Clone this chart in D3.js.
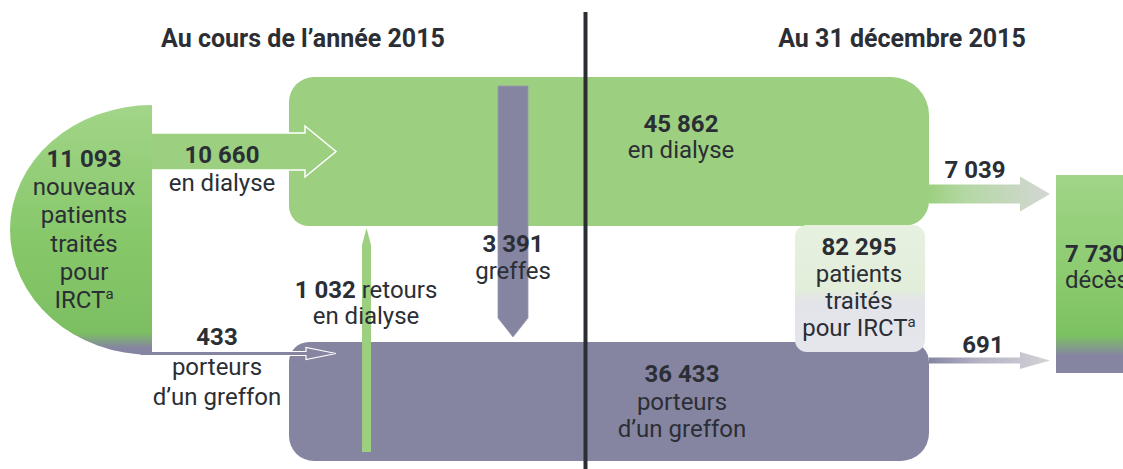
<!DOCTYPE html>
<html>
<head>
<meta charset="utf-8">
<script src="https://cdn.jsdelivr.net/npm/d3@7"></script>
<style>
	html, body { margin: 0; padding: 0; background: white; }
	svg { display: block; font-family: Roboto, "Open Sans", sans-serif; }
	text { fill: #2b2e35; }
</style>
</head>
<body>
<div id="chart"></div>
<script>
	// data
	var titles = ["Au cours de l’année 2015", "Au 31 décembre 2015"];
	var incidentCategories = ["en dialyse", "porteurs", "d’un greffon"];
	var incidentValues = [10660, 433];          // new patients : dialysis, graft
	var transferValues = [1032, 3391];          // back to dialysis, transplants
	var prevalentValues = [45862, 36433];       // on 31/12 : dialysis, graft
	var deathValues = [7039, 691];              // deaths from dialysis, graft

	var width = 1123, height = 469;
	var green = "#9cd080", purple = "#8685a1", ink = "#2b2e35";

	var fr = d3.formatLocale({decimal: ",", thousands: "\u00a0", grouping: [3], currency: ["", " €"]});
	var fmt = fr.format(",d");

	var svg = d3.select("#chart").append("svg")
		.attr("width", width)
		.attr("height", height);
	var defs = svg.append("defs");

	// share of graft in a total -> where the green turns purple
	function share(values) { return values[1] / d3.sum(values); }

	function vGrad(id, stops) {
		var g = defs.append("linearGradient").attr("id", id)
			.attr("x1", 0).attr("y1", 0).attr("x2", 0).attr("y2", 1);
		stops.forEach(function(s) { g.append("stop").attr("offset", s[0]).attr("stop-color", s[1]); });
	}
	function hGrad(id, stops) {
		var g = defs.append("linearGradient").attr("id", id)
			.attr("x1", 0).attr("y1", 0).attr("x2", 1).attr("y2", 0);
		stops.forEach(function(s) { g.append("stop").attr("offset", s[0]).attr("stop-color", s[1]); });
	}

	var pIn = share(incidentValues), pDeath = share(deathValues), pPrev = share(prevalentValues);
	vGrad("gIn", [[0, "#a2d588"], [0.55, "#86c769"], [1 - pIn - 0.05, "#7cbf62"], [1 - pIn + 0.01, purple], [1, purple]]);
	vGrad("gDeath", [[0, "#a0d587"], [0.5, "#8ccb70"], [1 - pDeath - 0.1, "#7cc161"], [1 - pDeath, purple], [1, purple]]);
	vGrad("gBox", [[0, "#e7f1e0"], [1 - pPrev - 0.05, "#e2edda"], [1 - pPrev + 0.05, "#e3e3ea"], [1, "#e5e5ec"]]);
	hGrad("gA1", [[0, green], [0.3, "#b4d8a4"], [1, "#d4d7d4"]]);
	hGrad("gA2", [[0, purple], [0.4, "#b4b3c6"], [1, "#d2d2d6"]]);

	function roundRect(x, y, w, h, r) {
		var p = d3.path();
		p.moveTo(x + r[0], y);
		p.lineTo(x + w - r[1], y);
		p.arcTo(x + w, y, x + w, y + r[1], r[1]);
		p.lineTo(x + w, y + h - r[2]);
		p.arcTo(x + w, y + h, x + w - r[2], y + h, r[2]);
		p.lineTo(x + r[3], y + h);
		p.arcTo(x, y + h, x, y + h - r[3], r[3]);
		p.lineTo(x, y + r[0]);
		p.arcTo(x, y, x + r[0], y, r[0]);
		p.closePath();
		return p.toString();
	}

	// horizontal arrow: shaft x0..xh, head to tip xt
	function hArrow(x0, xh, xt, cy, sw, hw) {
		var p = d3.path();
		p.moveTo(x0, cy - sw);
		p.lineTo(xh, cy - sw);
		p.lineTo(xh, cy - hw);
		p.lineTo(xt, cy);
		p.lineTo(xh, cy + hw);
		p.lineTo(xh, cy + sw);
		p.lineTo(x0, cy + sw);
		p.closePath();
		return p.toString();
	}

	// vertical arrow: shaft y0..yh, head to tip yt (up or down)
	function vArrow(cx, y0, yh, yt, sw, hw) {
		var p = d3.path();
		p.moveTo(cx - sw, y0);
		p.lineTo(cx - sw, yh);
		p.lineTo(cx - hw, yh);
		p.lineTo(cx, yt);
		p.lineTo(cx + hw, yh);
		p.lineTo(cx + sw, yh);
		p.lineTo(cx + sw, y0);
		p.closePath();
		return p.toString();
	}

	function label(x, y, lines, anchor, step) {
		var t = svg.append("text")
			.attr("x", x).attr("y", y)
			.attr("text-anchor", anchor || "middle")
			.style("font-size", "24px");
		lines.forEach(function(l, i) {
			var line = t.append("tspan").attr("x", x).attr("dy", i ? (step || 27) : 0);
			l.forEach(function(part) {
				var s = line.append("tspan").text(part[0]);
				if (part[1] === "b") s.style("font-weight", 700);
				if (part[1] === "sup") s.style("font-size", "15px").attr("dy", -9);
			});
		});
		return t;
	}

	// big boxes
	svg.append("path").attr("d", roundRect(289, 77, 640, 149, [25, 38, 25, 20])).attr("fill", green);
	svg.append("path").attr("d", roundRect(289, 342, 640, 119, [20, 20, 28, 25])).attr("fill", purple);

	// incident flows
	svg.append("path").attr("d", hArrow(140, 305, 336, 151.5, 18.5, 25.5))
		.attr("fill", green).attr("stroke", "white").attr("stroke-width", 1.5);
	svg.append("path").attr("d", hArrow(140, 306, 336, 353.5, 2, 6))
		.attr("fill", purple).attr("stroke", "white").attr("stroke-width", 1.2);

	// half disc of new patients
	svg.append("path")
		.attr("d", "M152,105 A142,125 0 0 0 152,355 Z")
		.attr("fill", "url(#gIn)");

	// transfers
	svg.append("path").attr("d", vArrow(366.5, 452, 245, 228, 4.5, 4.5)).attr("fill", green);
	svg.append("path").attr("d", vArrow(513, 86, 318, 337, 15, 15)).attr("fill", purple)
		.attr("stroke", "#9897b0").attr("stroke-width", 0.8);

	// total box
	svg.append("path").attr("d", roundRect(795, 225, 130, 127, [12, 12, 12, 12])).attr("fill", "url(#gBox)");

	// deaths
	svg.append("path").attr("d", hArrow(929, 1020, 1050, 194, 9.5, 17.5)).attr("fill", "url(#gA1)");
	svg.append("path").attr("d", hArrow(929, 1020, 1050, 360.5, 3, 8.5)).attr("fill", "url(#gA2)");
	svg.append("rect").attr("x", 1056).attr("y", 175).attr("width", 100).attr("height", 198).attr("fill", "url(#gDeath)");

	// divider
	svg.append("line").attr("x1", 585.5).attr("x2", 585.5).attr("y1", 12).attr("y2", height)
		.attr("stroke", ink).attr("stroke-width", 4);

	// titles
	svg.selectAll(".title").data(titles).enter().append("text")
		.attr("class", "title")
		.attr("x", function(d, i) { return i ? 902 : 303; })
		.attr("y", 47)
		.attr("text-anchor", "middle")
		.style("font-size", "25px").style("font-weight", 700)
		.text(function(d) { return d; });

	// labels
	label(84, 167, [[[fmt(d3.sum(incidentValues)), "b"]], [["nouveaux"]], [["patients"]], [["traités"]], [["pour"]], [["IRCT"], ["a", "sup"]]], "middle", 28.2);
	label(222, 163, [[[fmt(incidentValues[0]), "b"]], [[incidentCategories[0]]]], "middle", 28);
	label(217, 345, [[[fmt(incidentValues[1]), "b"]], [[incidentCategories[1]]], [[incidentCategories[2]]]], "middle", 30);
	label(366, 298, [[[fmt(transferValues[0]), "b"], [" retours"]], [["en dialyse"]]], "middle", 26);
	label(513, 252, [[[fmt(transferValues[1]), "b"]], [["greffes"]]], "middle", 27);
	label(681, 132, [[[fmt(prevalentValues[0]), "b"]], [["en dialyse"]]], "middle", 26);
	label(682, 382, [[[fmt(prevalentValues[1]), "b"]], [["porteurs"]], [["d’un greffon"]]], "middle", 27.5);
	label(859, 255, [[[fmt(d3.sum(prevalentValues)), "b"]], [["patients"]], [["traités"]], [["pour IRCT"], ["a", "sup"]]], "middle", 27);
	label(975, 178, [[[fmt(deathValues[0]), "b"]]]);
	label(983, 353, [[[fmt(deathValues[1]), "b"]]]);
	label(1065, 262, [[[fmt(d3.sum(deathValues)), "b"]], [["décès"]]], "start", 26);
</script>
</body>
</html>
